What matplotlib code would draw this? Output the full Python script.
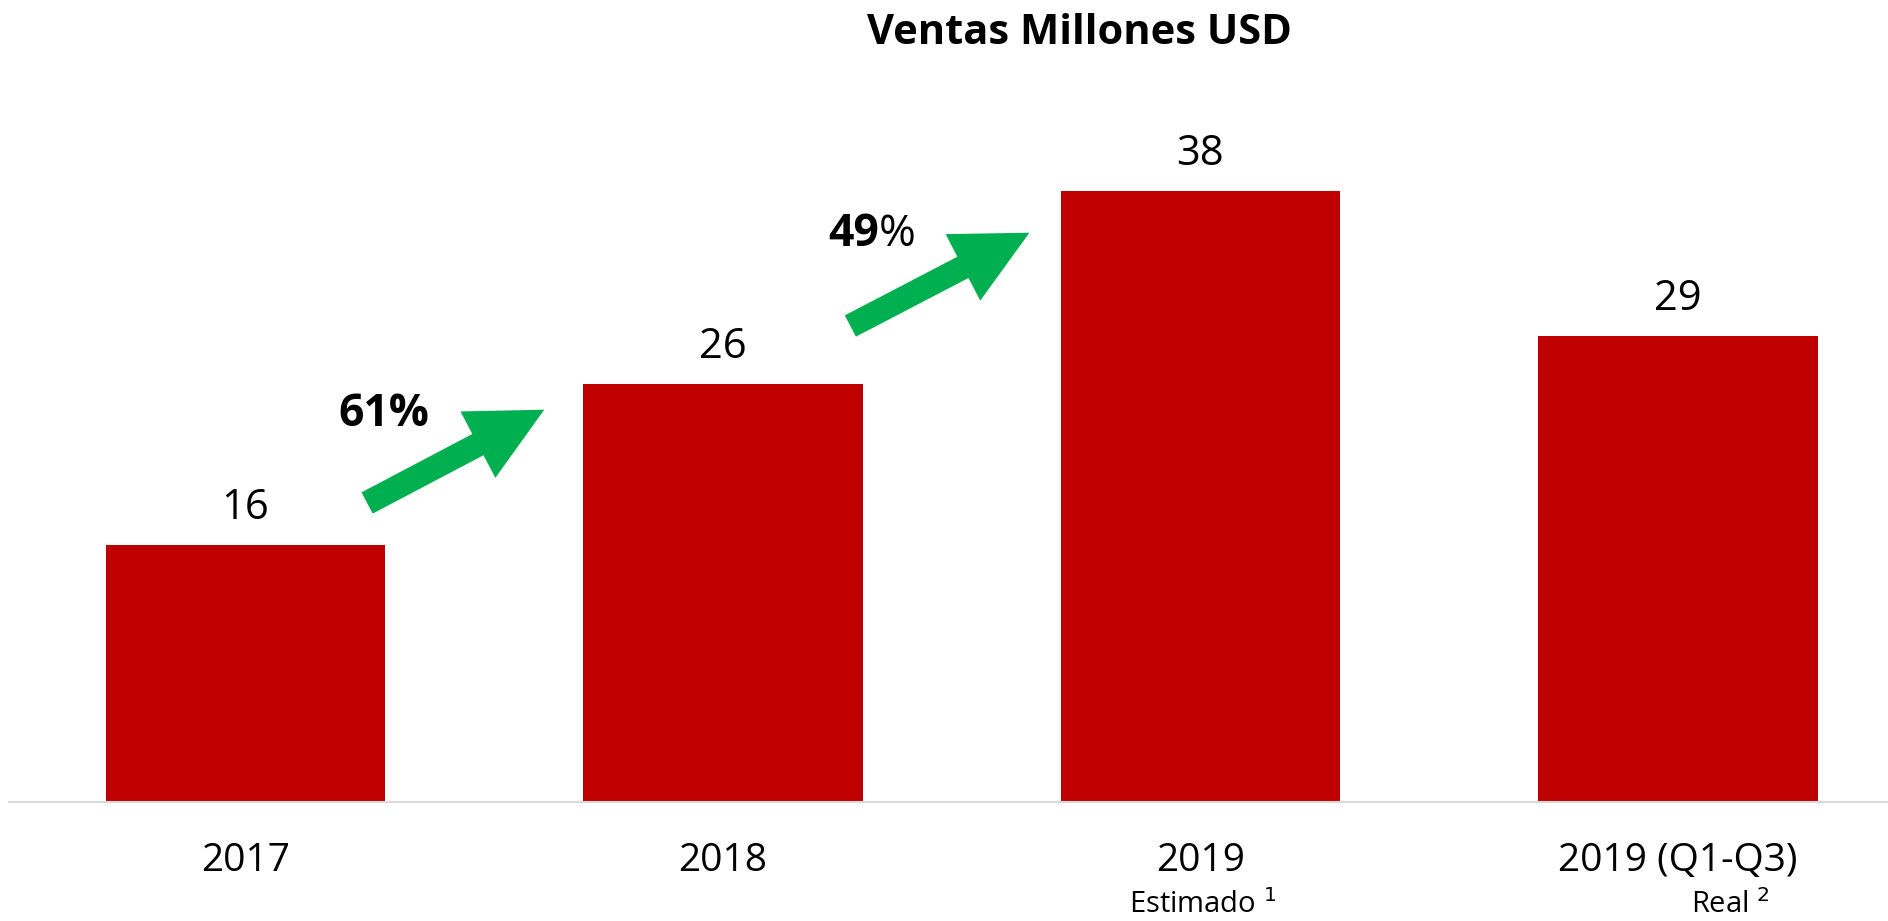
import matplotlib.pyplot as plt
import matplotlib

matplotlib.rcParams['font.family'] = ['Liberation Sans Narrow', 'Open Sans', 'DejaVu Sans']

# datos
categorias = ['2017', '2018', '2019', '2019 (Q1-Q3)']
ventas = [16, 26, 38, 29]
subtitulos = ['', '', 'Estimado $^1$', 'Real $^2$']
crecimiento = ['61', '49']

# flechas verdes (inicio / punta en coordenadas de datos)
flecha_ini = [(0.255, 18.6), (1.267, 29.6)]
flecha_fin = [(0.626, 24.4), (1.642, 35.4)]

rojo = '#C00000'
verde = '#00B050'

fig = plt.figure(figsize=(18.88, 9.21), dpi=100)
ax = fig.add_axes([0.005, 0.129, 0.995, 0.786])

x = range(len(categorias))
barras = ax.bar(x, ventas, width=0.585, color=rojo, zorder=2)

# etiquetas de valores
for xi, v in zip(x, ventas):
    ax.text(xi, v + 1.0, str(v), ha='center', va='bottom', fontsize=30)

ax.set_xlim(-0.494, 3.44)
ax.set_ylim(0, 45)
ax.set_yticks([])
ax.set_xticks(list(x))
ax.set_xticklabels(categorias, fontsize=28)
ax.tick_params(axis='x', length=0, pad=29)
for s in ['top', 'right', 'left']:
    ax.spines[s].set_visible(False)
ax.spines['bottom'].set_color('#D9D9D9')
ax.spines['bottom'].set_linewidth(1.5)

# subtitulos bajo las categorias
sub_x = [0, 1, 2.005, 3.11]
for sx, st in zip(sub_x, subtitulos):
    if st:
        ax.text(sx, -6.4, st, ha='center', va='center', fontsize=21)

# flechas de crecimiento
for (x0, y0), (x1, y1) in zip(flecha_ini, flecha_fin):
    ax.annotate('', xy=(x1, y1), xytext=(x0, y0),
                arrowprops=dict(arrowstyle='simple,head_width=1.0,head_length=1.0,tail_width=0.32',
                                mutation_scale=54, color=verde, shrinkA=0, shrinkB=0, lw=0))

# porcentajes
ax.text(0.29, 24.1, crecimiento[0] + '%', ha='center', va='center', fontsize=32, fontweight='bold')
ax.text(1.327, 35.3, crecimiento[1], ha='right', va='center', fontsize=32, fontweight='bold')
ax.text(1.327, 35.3, '%', ha='left', va='center', fontsize=32)

fig.text(0.572, 0.964, 'Ventas Millones USD', ha='center', va='center', fontsize=30, fontweight='bold')

plt.savefig('out.png', dpi=100)
